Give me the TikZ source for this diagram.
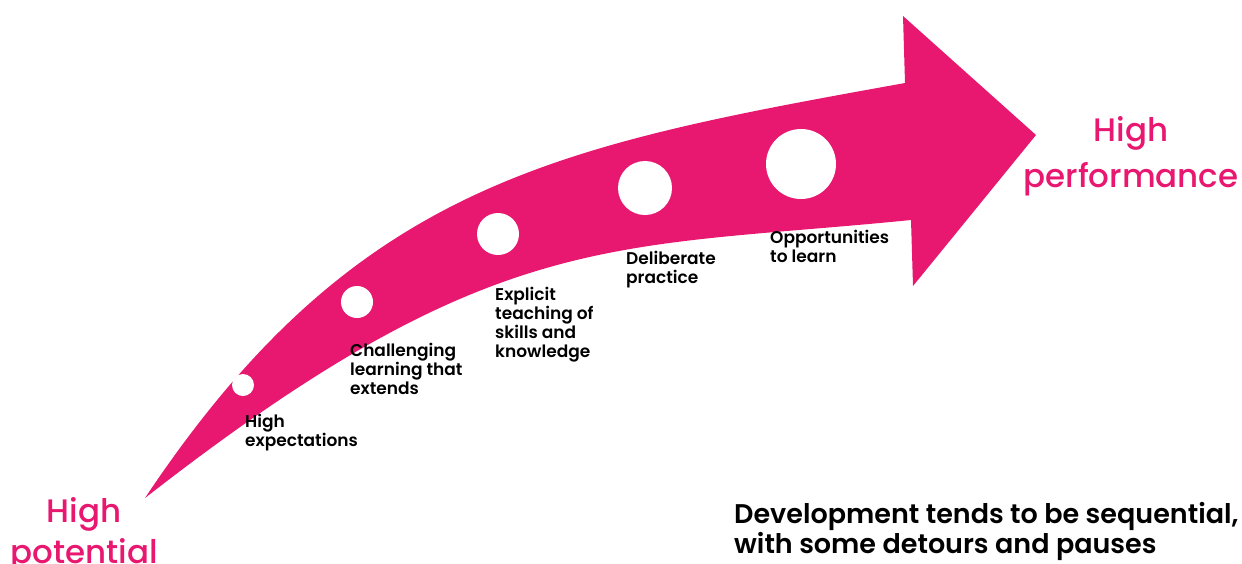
\documentclass[tikz,border=0pt]{standalone}
\usepackage{fontspec}
\setmainfont{Poppins}[UprightFont=* Medium, BoldFont=* SemiBold]
\usepackage{tikz}
\definecolor{hotpink}{RGB}{232,24,112}

\begin{document}
\begin{tikzpicture}[x=1pt,y=-1pt,
  steplabel/.style={anchor=north west, inner sep=0pt, align=left,
    font=\bfseries\fontsize{17}{19}\selectfont},
  endlabel/.style={anchor=north, inner sep=0pt, align=center, text=hotpink,
    font=\fontsize{32.5}{46}\selectfont},
  dot/.style={fill=white}]
\useasboundingbox (0,0) rectangle (1242,563);
% the curved arrow
\fill[hotpink] (145,498) .. controls (355,183) and (555,146) .. (905,83)
  -- (903,16) -- (1036,135) -- (913,286) -- (911,220)
  .. controls (611,250) and (495,225) .. (145,498) -- cycle;
% dots along the arrow
\fill[dot] (243,385) circle[radius=11pt]
  (357,302) circle[radius=16pt]
  (498,234) circle[radius=21pt]
  (645,188) circle[radius=27pt]
  (801,164) circle[radius=35pt];
% steps
\node[steplabel] (expect) at (245,414) {High\\expectations};
\node[steplabel] (challenge) at (350,343) {Challenging\\learning that\\extends};
\node[steplabel] (explicit) at (495,287) {Explicit\\teaching of\\skills and\\knowledge};
\node[steplabel] (practice) at (626,251) {Deliberate\\practice};
\node[steplabel] (opport) at (770,230) {Opportunities\\to learn};
% ends
\node[endlabel, font=\fontsize{32.5}{41}\selectfont] (potential) at (84,497) {High\\potential};
\node[endlabel] (perform) at (1131,116) {High\\performance};
\node[anchor=north west, inner sep=0pt, align=left, font=\bfseries\fontsize{27}{30}\selectfont]
  (note) at (734,502) {Development tends to be sequential,\\with some detours and pauses};
\end{tikzpicture}
\end{document}
